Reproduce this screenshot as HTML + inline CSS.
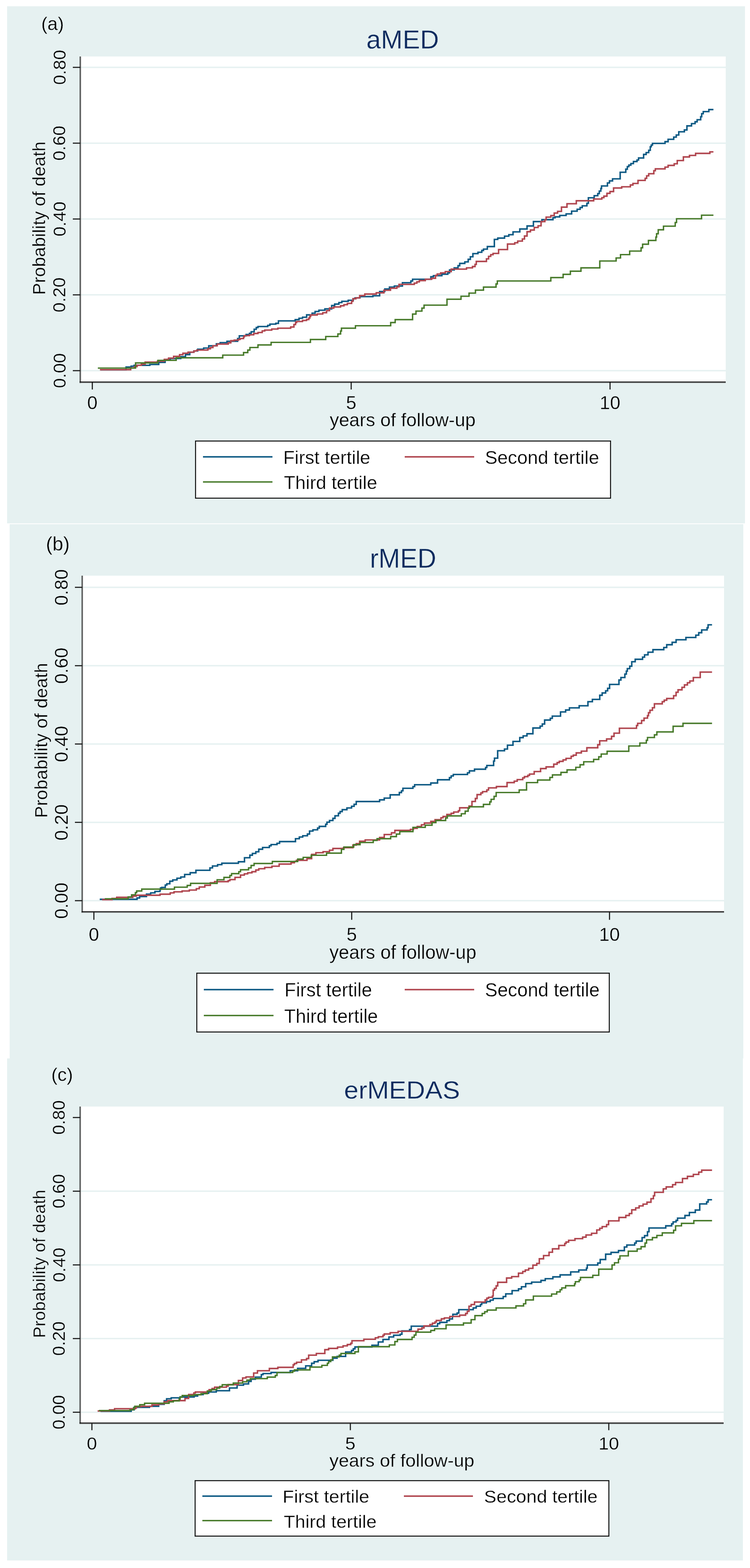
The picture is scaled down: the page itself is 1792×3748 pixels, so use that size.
<!DOCTYPE html>
<html lang="en"><head><meta charset="utf-8"><title>Cumulative mortality by tertiles: aMED, rMED, erMEDAS</title>
<style>
html,body{margin:0;padding:0;background:#fff;width:1792px;height:3748px;overflow:hidden}
svg{display:block}
text{font-family:"Liberation Sans", Arial, sans-serif}
</style></head><body>
<svg width="1792" height="3748" viewBox="0 0 1792 3748">
<rect x="0" y="0" width="1792" height="3748" fill="#fff"/>
<rect x="17" y="15" width="1763" height="1236" fill="#e6f1f1"/>
<rect x="190" y="135" width="1544" height="781" fill="#fff"/>
<rect x="194" y="884.3" width="1540" height="3.4" fill="#e6f1f1"/>
<rect x="194" y="703" width="1540" height="3.4" fill="#e6f1f1"/>
<rect x="194" y="521.8" width="1540" height="3.4" fill="#e6f1f1"/>
<rect x="194" y="340.6" width="1540" height="3.4" fill="#e6f1f1"/>
<rect x="194" y="159.3" width="1540" height="3.4" fill="#e6f1f1"/>
<path d="M240.3 883.7H301.2V877.3H313.3V875.2H320.4V873.2H358V871.2H379.3V866.1H394.5V860H406.7V857H432V852.5H443.2V847.8H453.4V841.7H463.2V838.7H472.3V834.7H486.5V832H498.7V826.5H517V821.9H526.1V819H542.3V815.8H567.7V809.3H571.8V802.8H588V799.5H596.1V796.7H600.2V793H607.3V787H612.3V782.9H616.4V780.5H639.7V777.8H644.9V774.8H659V772.9H665.3V767H705.3V764.1H714.5V760.7H722.8V758.2H732.6V752.6H745.8V748.6H752.9V744.5H762V741.5H776.2V738.4H792.5V730.3H799.6V726.9H809.7V723.2H816.8V720.2H832V717.7H844.2V714.1H848.3V712H860V709H891V707H907.1V696.8H919.3V690.7H930.5V686.3H942.2V683.8H961.5V675.7H981.7V671.6H985.8V667.5H1029.4V661.5H1035.5V659H1055.8V655.4H1070V652.3H1074.1V645.2H1085.2V640.2H1094.4V635.1H1098.4V629.6H1110.6V626H1118.7V619.9H1123.8V613.8H1129.9V606.3H1142V603H1151.2V598.6H1155.2V595.5H1164.4V589.4H1181.2V572.2H1189.3V569.1H1205.5V564.5H1215.7V561H1225.8V554.3H1242V547.4H1259.3V540.1H1274.5V529.6H1294.8V525.1H1321.2V520.4H1326.3V518.4H1337.4V515H1352.6V511.3H1365.8V504.8H1379V500.2H1386.1V496.1H1391.2V492H1402.3V486H1405.8V472.8H1419.7V467.7H1428.3V462.8H1431.9V456.7H1435.6V450.6H1437.3V444.5H1451.4V437.2H1456.3V432.4H1463.6V427.5H1481.8V411.7H1495.2V404.4H1498.9V398.3H1502.5V394.6H1507.4V391H1513.5V386.1H1522V382.5H1525.7V377.6H1537.8V369.1H1543.9V364.7H1550V359.3H1553.7V350.8H1556.1V346.7H1559V342.8H1589V338.6H1596.3V333H1609.7V327.7H1615.8V322.8H1621.8V315H1635.2V310.6H1641.3V300.9H1652.3V295.5H1660.8V291.1H1665.7V286.3H1674.2V279H1676.6V271.7H1680.3V266.8H1693.7V261.9H1704.6" fill="none" stroke="#0e5a84" stroke-width="3.6" stroke-linejoin="miter" stroke-linecap="butt"/>
<path d="M238.7 883.7H312.3V879.3H321.5V876.2H327.5V873.2H337.7V870.8H346.8V865.5H376.2V863.5H392.5V859H402.6V856H414.8V851.9H429V847.8H437.1V844.4H449.3V841.7H463.5V838.7H470.3V836.7H496.7V833.6H502.8V830.6H508.8V826.5H519V822.5H545.4V819.4H551.5V814.4H559.6V813H569.7V811.3H573.8V809.3H581.9V805.2H583.9V802.2H596.1V800.2H606.2V797.1H616.4V794.7H626.5V791H632.6V789H649.3V786.5H663.9V784.5H694.5V781.6H702.3V775.8H706.2V770.9H708.7V768.5H722.8V766H732.5V763.6H737.9V760.2H740.3V756.3H742.3V752.9H757.9V750.5H771.2V747.5H780.3V742.5H787.4V736.4H797.5V733.7H813.8V730.9H821.9V728.3H830V725.2H840.2V720.2H843.2V714.1H850.3V712H859.4V706.6H871.6V702.9H899V699.9H917.3V693.8H933V688.9H948.3V685.8H953.3V679.7H989.9V676.7H996V673.6H1002V670.6H1016.2V667.5H1031.5V665.1H1040.6V658.4H1044.6V655H1052.8V652.3H1063.9V649.3H1078.1V643.2H1114.7V640.2H1128.9V637.1H1135V632H1138V624.9H1162.3V618.8H1167.4V612.8H1172.5V608.7H1178.1V605.7H1191.3V596.5H1212.6V583.4H1229.9V580.3H1237V576.2H1248.1V571.2H1253.2V564.1H1259.3V553.9H1267.4V549.9H1276.5V543.8H1285.7V539.7H1292.8V529.6H1301.9V525.5H1304.9V519H1316.1V515.4H1324.2V509.3H1332.3V505.2H1341.5V495.1H1354.7V487H1377V479.9H1418.5V475.7H1438V472.5H1442.9V468.9H1450.2V462.1H1457.5V457.9H1466V449.4H1485.5V446.5H1506.2V442.1H1512.3V438.5H1524.4V431.2H1541.5V426.3H1545.1V420.2H1550V415.3H1562.2V408H1565.8V403.6H1589V399.5H1596.3V395.4H1610.9V391.5H1618.2V383.7H1632.8V375.1H1647.4V371.5H1662V366.6H1696.1V363H1704.6" fill="none" stroke="#b0464f" stroke-width="3.6" stroke-linejoin="miter" stroke-linecap="butt"/>
<path d="M233.8 879.9H323.9V867.5H377.3V861.4H420.9V855.3H532.2V848.9H581.9V842.8H592V836.7H597.1V830.6H616.4V824.5H647.8V818.4H741.7V811.5H778.3V804.4H807.3V798.3H813.8V791.2H815.8V784.5H849.3V778.6H933.5V771H944.2V764H985.8V750.7H993.9V743.6H1008.1V736.5H1013.2V729.4H1068V715.2H1101.5V708.1H1120.7V700.6H1136V693.5H1155.2V686.2H1185.2V678.7H1188.3V671.6H1316.1V663.5H1345.5V655.8H1362.8V648.3H1388.1V640.2H1433.1V623.9H1472.1V616.6H1482.6V608.6H1504.5V600.1H1531.8V592.3H1535.4V583.7H1549.3V574.7H1567.1V566.7H1568.8V558.7H1572.7V549.2H1585.3V540.6H1613.3V531.9H1616.5V522.9H1676.2V514.4H1704.6" fill="none" stroke="#477a2a" stroke-width="3.4" stroke-linejoin="miter" stroke-linecap="butt"/>
<rect x="190" y="135" width="3.6" height="781" fill="#5f6161"/>
<rect x="190" y="912" width="1544" height="2.4" fill="#0b0b0b"/>
<rect x="190" y="914.4" width="1544" height="1.4" fill="#8a9090"/>
<rect x="174" y="884.7" width="18" height="2.6" fill="#1a1a1a"/>
<text x="156.5" y="886" font-size="43" text-anchor="middle" fill="#000" transform="rotate(-90 156.5 886)" stroke="#e6f1f1" stroke-width="0.45">0.00</text>
<rect x="174" y="703.5" width="18" height="2.6" fill="#1a1a1a"/>
<text x="156.5" y="704.8" font-size="43" text-anchor="middle" fill="#000" transform="rotate(-90 156.5 704.8)" stroke="#e6f1f1" stroke-width="0.45">0.20</text>
<rect x="174" y="522.2" width="18" height="2.6" fill="#1a1a1a"/>
<text x="156.5" y="523.5" font-size="43" text-anchor="middle" fill="#000" transform="rotate(-90 156.5 523.5)" stroke="#e6f1f1" stroke-width="0.45">0.40</text>
<rect x="174" y="340.9" width="18" height="2.6" fill="#1a1a1a"/>
<text x="156.5" y="342.2" font-size="43" text-anchor="middle" fill="#000" transform="rotate(-90 156.5 342.2)" stroke="#e6f1f1" stroke-width="0.45">0.60</text>
<rect x="174" y="159.7" width="18" height="2.6" fill="#1a1a1a"/>
<text x="156.5" y="161" font-size="43" text-anchor="middle" fill="#000" transform="rotate(-90 156.5 161)" stroke="#e6f1f1" stroke-width="0.45">0.80</text>
<rect x="219.3" y="914" width="2.6" height="17" fill="#1a1a1a"/>
<text x="220.6" y="978" font-size="44.5" text-anchor="middle" fill="#000" stroke="#e6f1f1" stroke-width="0.45">0</text>
<rect x="837.8" y="914" width="2.6" height="17" fill="#1a1a1a"/>
<text x="839.1" y="978" font-size="44.5" text-anchor="middle" fill="#000" stroke="#e6f1f1" stroke-width="0.45">5</text>
<rect x="1456.3" y="914" width="2.6" height="17" fill="#1a1a1a"/>
<text x="1457.6" y="978" font-size="44.5" text-anchor="middle" fill="#000" stroke="#e6f1f1" stroke-width="0.45">10</text>
<text x="98.5" y="71.5" font-size="44.5" text-anchor="start" fill="#000" stroke="#e6f1f1" stroke-width="0.45">(a)</text>
<text x="962" y="116" font-size="62.5" text-anchor="middle" fill="#0c2a5e" stroke="#e6f1f1" stroke-width="0.45">aMED</text>
<text x="108.4" y="521.5" font-size="42.8" text-anchor="middle" fill="#000" transform="rotate(-90 108.4 521.5)" stroke="#e6f1f1" stroke-width="0.45">Probability of death</text>
<text x="962" y="1019.4" font-size="44.5" text-anchor="middle" fill="#000" stroke="#e6f1f1" stroke-width="0.45">years of follow-up</text>
<rect x="467.2" y="1054.2" width="991.6" height="136.6" fill="#fff" stroke="#111" stroke-width="2.4"/>
<rect x="485" y="1090.2" width="166" height="3.6" fill="#0e5a84"/>
<rect x="967" y="1090.2" width="166" height="3.6" fill="#b0464f"/>
<rect x="485" y="1150.3" width="166" height="3.4" fill="#477a2a"/>
<text x="676.8" y="1109.3" font-size="44.6" text-anchor="start" fill="#000" stroke="#fff" stroke-width="0.45">First tertile</text>
<text x="1158.8" y="1109.3" font-size="44.6" text-anchor="start" fill="#000" stroke="#fff" stroke-width="0.45">Second tertile</text>
<text x="678.2" y="1168.9" font-size="44.6" text-anchor="start" fill="#000" stroke="#fff" stroke-width="0.45">Third tertile</text>
<rect x="23" y="1253" width="1753" height="1277" fill="#e6f1f1"/>
<rect x="195" y="1376" width="1535" height="806" fill="#fff"/>
<rect x="199" y="2151.2" width="1531" height="3.4" fill="#e6f1f1"/>
<rect x="199" y="1964" width="1531" height="3.4" fill="#e6f1f1"/>
<rect x="199" y="1776.7" width="1531" height="3.4" fill="#e6f1f1"/>
<rect x="199" y="1589.5" width="1531" height="3.4" fill="#e6f1f1"/>
<rect x="199" y="1402.2" width="1531" height="3.4" fill="#e6f1f1"/>
<path d="M238.3 2149.6H327.5V2146.4H333.6V2142.9H349.9V2137.4H360V2134.2H370.2V2130.7H382.3V2126.7H383.4V2122.6H386.4V2121.2H394.9V2115.5H398.6V2112.5H405.7V2106.4H412.8V2103.3H422.9V2099.3H432V2096.2H441.2V2090.2H454.4V2086.1H468.1V2080.2H501.6V2074.5H507.7V2070H519.9V2066.8H530V2063.4H569.6V2059.9H584.2V2050.2H597V2044.1H603.1V2040H611.2V2036H618.3V2029.9H627.4V2025.8H643.6V2021.8H647.7V2018.7H661.9V2015.7H668V2011.6H706V2004.8H715.2V2000.7H723.3V1997.7H734.5V1993.6H739.6V1986.5H747.7V1983.5H758.8V1979.4H762.9V1975.4H778.1V1970.3H781.2V1965.2H787.3V1961.2H795.4V1956.1H800.4V1950H808.6V1943.9H812.6V1939.9H817.7V1935.4H828.9V1931.3H840V1927.3H846.1V1922.6H851.2V1915.9H907V1911.9H918.1V1907.8H932.3V1899.9H954.2V1894.4H959.3V1890.3H962.7V1884.2H986.7V1880.2H990.7V1875.7H1029.3V1871.6H1045.5V1863.9H1073.9V1858.9H1078V1854.8H1083.1V1851.3H1117V1847.3H1121.6V1842.6H1133.8V1838.6H1160.2V1834.5H1163.2V1829.8H1179.4V1819.3H1181.5V1812.2H1189.1V1794.5H1205.4V1790.5H1212.5V1781.3H1225.7V1772.2H1241.9V1763.1H1250V1759H1259.1V1753.9H1273.3V1740.1H1290.6V1735.7H1295.7V1730.6H1301.3V1721.1H1314.9V1717H1319.6V1711.7H1339.3V1701.8H1351.5V1697.1H1360.6V1692H1383.9V1687H1404.8V1677.2H1415.4V1671.7H1433V1661.9H1438.8V1656.4H1447.1V1651.3H1451.8V1645.4H1456.5V1636H1478.9V1625.4H1483.6V1619.5H1493V1611.2H1496.5V1604.2H1498.9V1598.3H1504.7V1592.4H1509.5V1581.8H1517.7V1575.9H1535.3V1570.8H1540.1V1565.3H1548.3V1559H1560.1V1552.9H1586V1547.7H1593V1541.1H1606V1535.4H1615.4V1529.3H1638.9V1523.7H1662.5V1518.3H1669.5V1512.4H1676.6V1505.8H1689.5V1500.6H1691.9V1493.5H1701.3" fill="none" stroke="#0e5a84" stroke-width="3.6" stroke-linejoin="miter" stroke-linecap="butt"/>
<path d="M243.9 2150.4H267.7V2147.6H278.8V2144.9H317.4V2141.9H325.5V2139.9H382.3V2137.4H406.7V2134.2H415.8V2131.8H435.1V2129.7H452.3V2127.5H469.1V2124.2H476.2V2120.2H489.4V2116.1H502.6V2110H512.8V2107.4H545.2V2105H549.3V2102.5H561.5V2097.2H574.7V2091.8H583.8V2088.7H591.9V2086.3H602V2083.6H611.2V2079.6H618.3V2076.5H632.5V2073.5H649.7V2070.5H667V2065.4H695.4V2062.3H703.5V2059.3H708.1V2056.5H733.5V2052.5H744.6V2042.3H754.8V2038.3H772V2035.7H787.3V2032.2H795.4V2028.1H820.7V2026.1H843.1V2020H851.2V2016.6H859.3V2010.9H872.5V2007.8H907V2001.8H918.1V1994.7H935.4V1990.6H943.5V1984.9H980.6V1982.6H987.7V1980H996.8V1975.5H1007V1971.5H1014.1V1967.4H1029.3V1963.4H1039.4V1959.3H1053.6V1954.8H1058.7V1951.6H1067.8V1946.7H1078V1944.1H1084.1V1941H1095.2V1938H1098.3V1930.9H1120.6V1926.8H1127.7V1915.7H1135.8V1908.6H1139.9V1899.4H1149V1895.4H1153.1V1892.3H1163.2V1888.3H1167.3V1883.2H1186.1V1880.1H1211.5V1870.6H1228.7V1867.2H1235.8V1863.5H1249V1859.4H1253.1V1856.4H1261.2V1853.4H1265.2V1850.3H1276.4V1844.2H1291.6V1837.1H1304.8V1833.1H1323.1V1826.6H1331.2V1822.9H1336.3V1819.9H1345.4V1816.4H1352.5V1812.8H1364.7V1807.7H1369.7V1805.1H1376.8V1799.6H1389V1795.5H1402.2V1787.4H1428.2V1780.1H1432.9V1770.7H1449.4V1766.4H1461.2V1760.1H1467.1V1752.5H1480V1740.8H1520.8V1734.2H1523.6V1729H1533V1722.4H1538.9V1716.5H1547.1V1710.6H1549.5V1703.6H1553V1697.7H1558.9V1691.8H1563.6V1682.4H1582.4V1677.2H1587.1V1673.6H1593V1669.6H1609.5V1663H1615.4V1654.8H1620.1V1648.9H1629.5V1643H1635.4V1637.1H1642.5V1632H1648.3V1627.7H1656.6V1619.5H1673.1V1606.5H1701.3" fill="none" stroke="#b0464f" stroke-width="3.6" stroke-linejoin="miter" stroke-linecap="butt"/>
<path d="M250.4 2148.4H306.2V2143.9H314.4V2138.9H323.5V2133.8H326.5V2129.7H338.7V2125.3H416.8V2120.6H447.3V2116.5H455.4V2111.5H518.8V2102.9H535.1V2097.2H549.3V2092.8H553.3V2088.3H570.6V2083.6H574.7V2079H593.9V2074.5H600V2068.8H607.1V2064H650.7V2059.3H711.2V2053.5H724.4V2049.4H743.6V2044.4H780.2V2039.3H815.7V2030.2H821.8V2024.7H845.1V2019H860.3V2013.9H891.8V2008.9H900.9V2004.8H933.4V1999.7H947.1V1993.8H955.2V1987.7H986.7V1977.6H1016.1V1972.5H1032.3V1966.4H1041.5V1961.3H1064.8V1955.2H1068.9V1950.2H1102.3V1945.1H1111.5V1939H1118.6V1931.9H1121.6V1928.5H1155.1V1922.8H1170.3V1916.7H1173.4V1910.6H1180.5V1903.5H1185.5V1894.4H1240.5V1888.3H1258.1V1870.6H1284.5V1864.5H1313.9V1858.4H1320V1852.3H1340.3V1846.3H1354.9V1840.2H1375.8V1834.1H1386V1828H1394.7V1820.9H1418.4V1815.2H1430.6V1809H1436.5V1802.4H1450.6V1795.8H1502.4V1783.1H1528.8V1776.1H1544.3V1769.5H1547.1V1762.9H1563.6V1756.5H1569.5V1749.5H1608.3V1736H1631.9V1729H1701.3" fill="none" stroke="#477a2a" stroke-width="3.4" stroke-linejoin="miter" stroke-linecap="butt"/>
<rect x="194.6" y="1376" width="3.6" height="806" fill="#5f6161"/>
<rect x="195" y="2178.2" width="1535" height="2.4" fill="#0b0b0b"/>
<rect x="195" y="2180.6" width="1535" height="1.4" fill="#8a9090"/>
<rect x="179" y="2151.6" width="17.6" height="2.6" fill="#1a1a1a"/>
<text x="162" y="2152.9" font-size="44.5" text-anchor="middle" fill="#000" transform="rotate(-90 162 2152.9)" stroke="#e6f1f1" stroke-width="0.45">0.00</text>
<rect x="179" y="1964.4" width="17.6" height="2.6" fill="#1a1a1a"/>
<text x="162" y="1965.7" font-size="44.5" text-anchor="middle" fill="#000" transform="rotate(-90 162 1965.7)" stroke="#e6f1f1" stroke-width="0.45">0.20</text>
<rect x="179" y="1777.1" width="17.6" height="2.6" fill="#1a1a1a"/>
<text x="162" y="1778.4" font-size="44.5" text-anchor="middle" fill="#000" transform="rotate(-90 162 1778.4)" stroke="#e6f1f1" stroke-width="0.45">0.40</text>
<rect x="179" y="1589.9" width="17.6" height="2.6" fill="#1a1a1a"/>
<text x="162" y="1591.2" font-size="44.5" text-anchor="middle" fill="#000" transform="rotate(-90 162 1591.2)" stroke="#e6f1f1" stroke-width="0.45">0.60</text>
<rect x="179" y="1402.6" width="17.6" height="2.6" fill="#1a1a1a"/>
<text x="162" y="1403.9" font-size="44.5" text-anchor="middle" fill="#000" transform="rotate(-90 162 1403.9)" stroke="#e6f1f1" stroke-width="0.45">0.80</text>
<rect x="223" y="2180.2" width="2.6" height="18.4" fill="#1a1a1a"/>
<text x="224.3" y="2248.5" font-size="44.5" text-anchor="middle" fill="#000" stroke="#e6f1f1" stroke-width="0.45">0</text>
<rect x="839" y="2180.2" width="2.6" height="18.4" fill="#1a1a1a"/>
<text x="840.3" y="2248.5" font-size="44.5" text-anchor="middle" fill="#000" stroke="#e6f1f1" stroke-width="0.45">5</text>
<rect x="1455" y="2180.2" width="2.6" height="18.4" fill="#1a1a1a"/>
<text x="1456.3" y="2248.5" font-size="44.5" text-anchor="middle" fill="#000" stroke="#e6f1f1" stroke-width="0.45">10</text>
<text x="109.7" y="1316" font-size="46.5" text-anchor="start" fill="#000" stroke="#e6f1f1" stroke-width="0.45">(b)</text>
<text x="0" y="0" font-size="62.1" text-anchor="middle" fill="#0c2a5e" transform="translate(963 1357) scale(1 1.05)" stroke="#e6f1f1" stroke-width="0.45">rMED</text>
<text x="113.2" y="1769.9" font-size="43.3" text-anchor="middle" fill="#000" transform="rotate(-90 113.2 1769.9)" stroke="#e6f1f1" stroke-width="0.45">Probability of death</text>
<text x="0" y="0" font-size="44.8" text-anchor="middle" fill="#000" transform="translate(962.5 2291.8) scale(1 1.02)" stroke="#e6f1f1" stroke-width="0.45">years of follow-up</text>
<rect x="470.2" y="2326.2" width="985.6" height="140.6" fill="#fff" stroke="#111" stroke-width="2.4"/>
<rect x="487" y="2363.7" width="166.5" height="3.6" fill="#0e5a84"/>
<rect x="967" y="2363.7" width="166" height="3.6" fill="#b0464f"/>
<rect x="487" y="2425.7" width="166.5" height="3.4" fill="#477a2a"/>
<text x="0" y="0" font-size="44.8" text-anchor="start" fill="#000" transform="translate(679.8 2382.2) scale(1 1.05)" stroke="#fff" stroke-width="0.45">First tertile</text>
<text x="0" y="0" font-size="44.8" text-anchor="start" fill="#000" transform="translate(1158.8 2382.2) scale(1 1.05)" stroke="#fff" stroke-width="0.45">Second tertile</text>
<text x="0" y="0" font-size="44.8" text-anchor="start" fill="#000" transform="translate(679 2445.1) scale(1 1.05)" stroke="#fff" stroke-width="0.45">Third tertile</text>
<rect x="17" y="2530" width="1758" height="1200" fill="#e6f1f1"/>
<rect x="190" y="2645" width="1539" height="758.5" fill="#fff"/>
<rect x="194" y="3374" width="1535" height="3.4" fill="#e6f1f1"/>
<rect x="194" y="3197.9" width="1535" height="3.4" fill="#e6f1f1"/>
<rect x="194" y="3021.8" width="1535" height="3.4" fill="#e6f1f1"/>
<rect x="194" y="2845.6" width="1535" height="3.4" fill="#e6f1f1"/>
<path d="M240.3 3373.4H313.4V3369.8H320.7V3364H357.2V3361.5H379.1V3356.6H392.3V3348.3H398.1V3343.5H409.1V3341.3H430.3V3339.1H463.9V3336.9H472.2V3333.5H485.4V3330.3H498.6V3327.3H516.8V3324.2H548.3V3317.7H566.5V3311H581.8V3308H593.9V3301.9H600V3296.8H610.2V3291.8H624.4V3285.7H628.4V3283.2H647.7V3280.6H693.4V3276.5H711.2V3270.7H730.4V3264.7H744.6V3258.6H750.7V3254.9H759.9V3251.5H795.4V3246.4H805.5V3242.3H825.8V3231.8H840V3228.1H844.1V3224.1H848.1V3219.6H888.7V3215.6H903.9V3207.8H915.1V3201.8H929.3V3195.7H940.5V3191.6H956.2V3189.3H960.3V3181.2H978.6V3178.1H982.6V3170H1045.5V3163.9H1050.6V3160.9H1067.8V3156.8H1073.9V3152.8H1081V3146.7H1082V3141.6H1092.2V3138.6H1096.2V3130.5H1130.7V3126.4H1137.8V3122.3H1148V3118.3H1151V3114.2H1162.2V3111.2H1171.3V3107.7H1178.4V3103.7H1202.3V3099.2H1208.4V3092.7H1223.6V3085H1238.8V3080.9H1246V3075.8H1256.1V3068.3H1270.3V3064.7H1292.6V3060.6H1302.8V3056.5H1321V3052.1H1338.3V3047.4H1363.6V3040.3H1382.9V3035.8H1401.2V3031.2H1403.2V3023.7H1428.2V3019.1H1434.1V3010.6H1447.1V2997.9H1460V2993.6H1477.7V2989.4H1491.8V2980.7H1497.7V2976H1516.5V2971.3H1520V2966.6H1534.2V2958.3H1540.1V2953.6H1547.1V2944.2H1550.6V2935.3H1590.7V2930.1H1604.8V2925.4H1608.3V2920.7H1615.4V2917.1H1618.9V2911.7H1636.6V2905.4H1647.2V2898.3H1661.3V2892.4H1671.9V2877.8H1688.4V2873.1H1691.9V2867.7H1701.3" fill="none" stroke="#0e5a84" stroke-width="3.6" stroke-linejoin="miter" stroke-linecap="butt"/>
<path d="M233.2 3372.8H261.6V3370.1H273.8V3367.3H323.6V3365.4H325.8V3362.5H336.8V3361.5H363.1V3358.1H379.1V3355.5H392.3V3350.8H401V3347.9H442V3342.8H450.7V3333.3H463.1V3329.6H466.8V3327.4H495.5V3325H499.6V3321.8H506.7V3319.1H512.8V3315.7H541.2V3313.1H545.2V3309.6H569.6V3299.9H579.7V3293.8H587.8V3291.3H606.1V3282H615.2V3276.5H643.6V3271.1H663.9V3268.4H700.5V3262.3H703.5V3259.3H708.6V3256.2H720.3V3250.5H732.5V3247.4H737.5V3239.3H755.8V3235.2H776.1V3226.1H785.2V3223.1H806.5V3220H819.7V3217H829.9V3213.9H838V3210.9H841V3204.8H869.4V3201.3H896.8V3197.7H903.9V3195.3H915.1V3191.6H918.1V3188.6H932.3V3185.5H951.2V3182.2H998.8V3177.1H1008V3174.1H1013.1V3169.4H1027.3V3166H1033.3V3162.9H1039.4V3159.9H1042.5V3156.4H1054.6V3152.4H1061.8V3150.3H1074.9V3146.7H1098.3V3143.6H1112.5V3139.6H1116.5V3134.5H1120.6V3122.3H1125.7V3118.3H1133.8V3112.2H1159.2V3107.1H1163.2V3103.1H1167.3V3101H1176.4V3098H1178.4V3083.8H1181.5V3079.7H1185.5V3073.6H1189.2V3065.1H1210.4V3054.9H1222.6V3051.5H1238.8V3043.4H1249V3039.3H1255.1V3035.8H1263.2V3031.8H1273.3V3024.1H1282.5V3020H1288.6V3008.9H1298.7V3001.3H1311.9V2993.2H1320V2985.1H1335.2V2977H1349.4V2972.3H1352.5V2968.9H1358.6V2964.8H1373.8V2960.8H1392.1V2957.1H1400.2V2952H1413.4V2948H1425.9V2940H1433V2936H1438.8V2932H1449.4V2927.3H1454.1V2918.3H1478.9V2910.1H1495.3V2905.4H1503.6V2900.7H1509.5V2891.9H1518.9V2887.2H1527.1V2882.5H1536.5V2878.3H1545.9V2873.6H1555.4V2865.3H1561.2V2858.3H1564.1V2850H1584.8V2841.8H1591.8V2837.1H1607.1V2831.7H1614.2V2826.5H1630.7V2817.1H1642.5V2811.9H1656.6V2807.2H1669.5V2801.8H1676.6V2797.1H1701.3" fill="none" stroke="#b0464f" stroke-width="3.6" stroke-linejoin="miter" stroke-linecap="butt"/>
<path d="M236.2 3371.8H310.5V3369.8H319.2V3364.7H322.1V3361.5H333.8V3357.7H345.5V3354.2H404V3350.8H414.2V3348.6H428.1V3344.2H430.3V3339.8H435.4V3335.7H463.9V3333.7H480.3V3331.3H495.5V3325.2H504.6V3321.8H517.8V3318.1H524.9V3314.1H531V3310H557.4V3306H579.7V3302.9H589.9V3298.9H598V3295.4H638.6V3291.8H657.8V3287.7H661.9V3280.6H699.4V3277.5H703.5V3274.5H740.6V3267.7H769V3263.6H782.2V3258.6H785.2V3254.5H790.3V3250.5H794.4V3243.4H810.6V3239.3H814.7V3235.2H848.1V3231.2H856.3V3219H930.3V3214.9H943.5V3206.8H949.6V3201.8H984.6V3196.4H989.7V3191.3H993.8V3184.2H1029.3V3180.2H1038.4V3176.1H1065.8V3167H1107.4V3162.5H1125.7V3154.4H1134.8V3144.7H1152.1V3139.6H1158.1V3135.5H1164.2V3131.5H1185.5V3126.4H1232.8V3121.5H1251V3116.4H1256.1V3107.3H1274.4V3098.1H1318V3093.1H1330.2V3088H1338.3V3082.9H1342.3V3078.5H1351.5V3073.2H1372.8V3068.7H1374.8V3063.6H1383.9V3059.6H1387V3053.5H1416.4V3048.4H1430.6V3033.7H1462.4V3023.8H1468.3V3018.4H1477.7V3009.6H1481.2V3001.9H1501.2V2990.8H1522.4V2985.4H1531.8V2980H1541.2V2971.3H1544.8V2963.5H1558.9V2958.3H1569.5V2953.1H1582.4V2947H1609.5V2940.7H1614.2V2930.1H1628.3V2924.2H1657.8V2917.8H1701.3" fill="none" stroke="#477a2a" stroke-width="3.4" stroke-linejoin="miter" stroke-linecap="butt"/>
<rect x="189.7" y="2645" width="3.6" height="758.5" fill="#5f6161"/>
<rect x="190" y="3400.3" width="1539" height="2.4" fill="#0b0b0b"/>
<rect x="190" y="3402.7" width="1539" height="1.4" fill="#8a9090"/>
<rect x="174" y="3374.4" width="17.7" height="2.6" fill="#1a1a1a"/>
<text x="155.5" y="3375.7" font-size="42.3" text-anchor="middle" fill="#000" transform="rotate(-90 155.5 3375.7)" stroke="#e6f1f1" stroke-width="0.45">0.00</text>
<rect x="174" y="3198.3" width="17.7" height="2.6" fill="#1a1a1a"/>
<text x="155.5" y="3199.6" font-size="42.3" text-anchor="middle" fill="#000" transform="rotate(-90 155.5 3199.6)" stroke="#e6f1f1" stroke-width="0.45">0.20</text>
<rect x="174" y="3022.2" width="17.7" height="2.6" fill="#1a1a1a"/>
<text x="155.5" y="3023.5" font-size="42.3" text-anchor="middle" fill="#000" transform="rotate(-90 155.5 3023.5)" stroke="#e6f1f1" stroke-width="0.45">0.40</text>
<rect x="174" y="2846" width="17.7" height="2.6" fill="#1a1a1a"/>
<text x="155.5" y="2847.3" font-size="42.3" text-anchor="middle" fill="#000" transform="rotate(-90 155.5 2847.3)" stroke="#e6f1f1" stroke-width="0.45">0.60</text>
<rect x="174" y="2669.9" width="17.7" height="2.6" fill="#1a1a1a"/>
<text x="155.5" y="2671.2" font-size="42.3" text-anchor="middle" fill="#000" transform="rotate(-90 155.5 2671.2)" stroke="#e6f1f1" stroke-width="0.45">0.80</text>
<rect x="218.3" y="3402.3" width="2.6" height="16.3" fill="#1a1a1a"/>
<text x="0" y="0" font-size="44.3" text-anchor="middle" fill="#000" transform="translate(219.6 3465) scale(1 0.97)" stroke="#e6f1f1" stroke-width="0.45">0</text>
<rect x="835.8" y="3402.3" width="2.6" height="16.3" fill="#1a1a1a"/>
<text x="0" y="0" font-size="44.3" text-anchor="middle" fill="#000" transform="translate(837.1 3465) scale(1 0.97)" stroke="#e6f1f1" stroke-width="0.45">5</text>
<rect x="1453.3" y="3402.3" width="2.6" height="16.3" fill="#1a1a1a"/>
<text x="0" y="0" font-size="44.3" text-anchor="middle" fill="#000" transform="translate(1454.6 3465) scale(1 0.97)" stroke="#e6f1f1" stroke-width="0.45">10</text>
<text x="122.5" y="2584" font-size="44.5" text-anchor="start" fill="#000" stroke="#e6f1f1" stroke-width="0.45">(c)</text>
<text x="0" y="0" font-size="62.3" text-anchor="middle" fill="#0c2a5e" transform="translate(960.5 2625.8) scale(1 0.955)" stroke="#e6f1f1" stroke-width="0.45">erMEDAS</text>
<text x="108.2" y="3021" font-size="41.4" text-anchor="middle" fill="#000" transform="rotate(-90 108.2 3021)" stroke="#e6f1f1" stroke-width="0.45">Probability of death</text>
<text x="0" y="0" font-size="44.2" text-anchor="middle" fill="#000" transform="translate(960.2 3505.6) scale(1 0.97)" stroke="#e6f1f1" stroke-width="0.45">years of follow-up</text>
<rect x="466.2" y="3539.2" width="988.6" height="132.6" fill="#fff" stroke="#111" stroke-width="2.4"/>
<rect x="483.5" y="3574.4" width="166.5" height="3.6" fill="#0e5a84"/>
<rect x="965" y="3574.4" width="165" height="3.6" fill="#b0464f"/>
<rect x="483.5" y="3633" width="166.5" height="3.4" fill="#477a2a"/>
<text x="0" y="0" font-size="44.4" text-anchor="start" fill="#000" transform="translate(675.3 3592) scale(1 0.97)" stroke="#fff" stroke-width="0.45">First tertile</text>
<text x="0" y="0" font-size="44.4" text-anchor="start" fill="#000" transform="translate(1156.6 3592) scale(1 0.97)" stroke="#fff" stroke-width="0.45">Second tertile</text>
<text x="0" y="0" font-size="44.4" text-anchor="start" fill="#000" transform="translate(677.9 3651.5) scale(1 0.97)" stroke="#fff" stroke-width="0.45">Third tertile</text>
</svg>
</body></html>
